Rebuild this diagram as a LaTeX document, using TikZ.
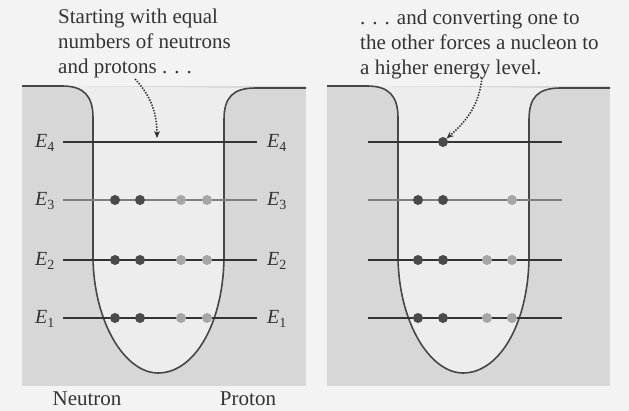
\documentclass[tikz,border=0pt]{standalone}
\usepackage{fontspec}
\setmainfont{Liberation Serif}
\usetikzlibrary{arrows.meta}
\definecolor{bgc}{HTML}{F3F3F3}
\definecolor{panelc}{HTML}{D7D7D7}
\definecolor{wellc}{HTML}{EDEDED}
\definecolor{inkc}{HTML}{333333}
\definecolor{darkdot}{HTML}{4A4A4A}
\definecolor{lightdot}{HTML}{A6A6A6}
\definecolor{midline}{HTML}{7F7F7F}
\begin{document}
\begin{tikzpicture}[x=1pt,y=-1pt,
  txt/.style={font=\fontsize{21}{25}\selectfont, inner sep=0pt, align=left, text=inkc},
  elab/.style={font=\fontsize{20}{22}\selectfont, inner sep=0pt, text=inkc},
  level/.style={draw=inkc, line width=1.2pt},
  midlevel/.style={draw=midline, line width=2.4pt},
  wall/.style={draw=inkc!90, line width=1.6pt},
  ndot/.style={circle, fill=darkdot, minimum size=10pt, inner sep=0pt},
  pdot/.style={circle, fill=lightdot, minimum size=10pt, inner sep=0pt},
  dotarrow/.style={draw=inkc, line width=1.6pt, dash pattern=on 1.4pt off 1.4pt, -{Stealth[length=7pt,width=6pt]}}
]
\useasboundingbox (0,0) rectangle (629,411);
\fill[bgc] (0,0) rectangle (629,411);

% ---------- left panel ----------
\fill[panelc] (22,86) rectangle (306,386);
\fill[wellc] (62,86) .. controls (84,86) and (93,96) .. (93,118) -- (93,255)
  .. controls (93,322) and (125,373) .. (158,373)
  .. controls (195,373) and (224,322) .. (224,255) -- (224,120)
  .. controls (224,97) and (233,88) .. (256,88) -- cycle;
\draw[wall] (22,86) -- (62,86) .. controls (84,86) and (93,96) .. (93,118) -- (93,255)
  .. controls (93,322) and (125,373) .. (158,373)
  .. controls (195,373) and (224,322) .. (224,255) -- (224,120)
  .. controls (224,97) and (233,88) .. (256,88) -- (306,88);

\coordinate (l4a) at (63,142); \coordinate (l4b) at (257,142);
\coordinate (l3a) at (63,200); \coordinate (l3b) at (257,200);
\coordinate (l2a) at (63,260); \coordinate (l2b) at (257,260);
\coordinate (l1a) at (63,318); \coordinate (l1b) at (257,318);
\draw[level] (l4a) -- (l4b);
\draw[midlevel] (l3a) -- (l3b);
\draw[level] (l2a) -- (l2b);
\draw[level] (l1a) -- (l1b);

\node[elab] (L4l) at (45,143) {\textit{E}\textsubscript{4}};
\node[elab] (L3l) at (45,201) {\textit{E}\textsubscript{3}};
\node[elab] (L2l) at (45,261) {\textit{E}\textsubscript{2}};
\node[elab] (L1l) at (45,319) {\textit{E}\textsubscript{1}};
\node[elab] (L4r) at (277,143) {\textit{E}\textsubscript{4}};
\node[elab] (L3r) at (277,201) {\textit{E}\textsubscript{3}};
\node[elab] (L2r) at (277,261) {\textit{E}\textsubscript{2}};
\node[elab] (L1r) at (277,319) {\textit{E}\textsubscript{1}};

\node[ndot] (a3n1) at (115,200) {}; \node[ndot] (a3n2) at (140,200) {};
\node[pdot] (a3p1) at (181,200) {}; \node[pdot] (a3p2) at (207,200) {};
\node[ndot] (a2n1) at (115,260) {}; \node[ndot] (a2n2) at (140,260) {};
\node[pdot] (a2p1) at (181,260) {}; \node[pdot] (a2p2) at (207,260) {};
\node[ndot] (a1n1) at (115,318) {}; \node[ndot] (a1n2) at (140,318) {};
\node[pdot] (a1p1) at (181,318) {}; \node[pdot] (a1p2) at (207,318) {};

\node[txt, anchor=north west] (tleft) at (58,9) {Starting with equal\\numbers of neutrons\\and protons . . .};
\coordinate (arlS) at (135,79);
\coordinate (arlE) at (157,138);
\draw[dotarrow] (arlS) .. controls (150,95) and (157,112) .. (arlE);

\node[txt, anchor=base] (neut) at (87,406) {Neutron};
\node[txt, anchor=base] (prot) at (248,406) {Proton};

% ---------- right panel ----------
\begin{scope}[xshift=305pt]
\fill[panelc] (22,86) rectangle (305,386);
\fill[wellc] (62,86) .. controls (84,86) and (93,96) .. (93,118) -- (93,255)
  .. controls (93,322) and (125,373) .. (158,373)
  .. controls (195,373) and (224,322) .. (224,255) -- (224,120)
  .. controls (224,97) and (233,88) .. (256,88) -- cycle;
\draw[wall] (22,86) -- (62,86) .. controls (84,86) and (93,96) .. (93,118) -- (93,255)
  .. controls (93,322) and (125,373) .. (158,373)
  .. controls (195,373) and (224,322) .. (224,255) -- (224,120)
  .. controls (224,97) and (233,88) .. (256,88) -- (305,88);

\coordinate (r4a) at (63,142); \coordinate (r4b) at (257,142);
\coordinate (r3a) at (63,200); \coordinate (r3b) at (257,200);
\coordinate (r2a) at (63,260); \coordinate (r2b) at (257,260);
\coordinate (r1a) at (63,318); \coordinate (r1b) at (257,318);
\draw[level] (r4a) -- (r4b);
\draw[midlevel] (r3a) -- (r3b);
\draw[level] (r2a) -- (r2b);
\draw[level] (r1a) -- (r1b);

\node[ndot] (b4n2) at (138,142) {};
\node[ndot] (b3n1) at (113,200) {}; \node[ndot] (b3n2) at (138,200) {};
\node[pdot] (b3p2) at (207,200) {};
\node[ndot] (b2n1) at (113,260) {}; \node[ndot] (b2n2) at (138,260) {};
\node[pdot] (b2p1) at (182,260) {}; \node[pdot] (b2p2) at (207,260) {};
\node[ndot] (b1n1) at (113,318) {}; \node[ndot] (b1n2) at (138,318) {};
\node[pdot] (b1p1) at (182,318) {}; \node[pdot] (b1p2) at (207,318) {};
\end{scope}

\node[txt, anchor=north west] (tright) at (360,10) {. . . and converting one to\\the other forces a nucleon to\\a higher energy level.};
\coordinate (arrS) at (482,78);
\draw[dotarrow] (arrS) .. controls (479,104) and (468,120) .. (b4n2.north east);
\end{tikzpicture}
\end{document}
